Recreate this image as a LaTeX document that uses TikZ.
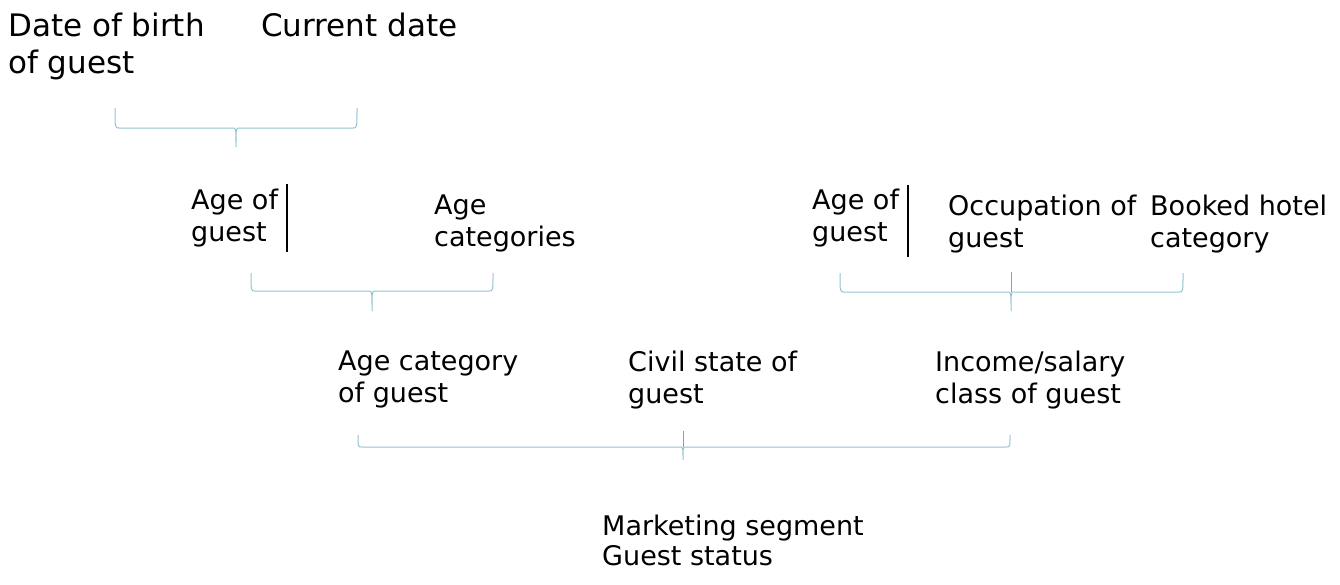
\documentclass[tikz,border=0pt]{standalone}
\usepackage{fontspec}
\setmainfont{DejaVu Sans}
\definecolor{brcol}{RGB}{145,195,205}
\definecolor{tickcol}{RGB}{140,160,168}

\begin{document}
\begin{tikzpicture}[x=1pt,y=-1pt,
    big/.style={anchor=north west,inner sep=0pt,align=left,font=\fontsize{31}{37}\selectfont},
    mid/.style={anchor=north west,inner sep=0pt,align=left,font=\fontsize{27}{32}\selectfont},
    low/.style={anchor=north west,inner sep=0pt,align=left,font=\fontsize{27}{30}\selectfont},
    brc/.style={draw=brcol,line width=1pt},
    bar/.style={draw=black,line width=1.5pt}]

      \useasboundingbox (0,0) rectangle (1340,584);

      % top row
      \node[big] (birth) at (8,13) {Date of birth\\of guest};
      \node[big] (now) at (261,13) {Current date};

      % middle row, left
      \node[mid] (ageL) at (191,189) {Age of\\guest};
      \node[mid] (agecats) at (434,195) {Age\\categories};
      \path (287,184) coordinate (barL1) (287,252) coordinate (barL2);
      \draw[bar] (barL1) -- (barL2);

      % middle row, right
      \node[mid] (ageR) at (812,189) {Age of\\guest};
      \node[mid] (occup) at (948,195) {Occupation of\\guest};
      \node[mid] (hotel) at (1150,195) {Booked hotel\\category};
      \path (908,185) coordinate (barR1) (908,257) coordinate (barR2);
      \draw[bar] (barR1) -- (barR2);

      % third row
      \node[mid] (agecat) at (338,351) {Age category\\of guest};
      \node[mid] (civil) at (628,351) {Civil state of\\guest};
      \node[mid] (income) at (935,351) {Income/salary\\class of guest};

      % result
      \node[low] (segment) at (602,515) {Marketing segment\\Guest status};

      % braces
      \foreach \l/\r/\m/\t/\y/\b in {115/357/236/108/128/147, 251/493/372/273/291/311,
                                     840/1183/1011/273/292/311, 358/1010/683/435/447/460}{
        \draw[brc] (\l,\t) .. controls (\l,\y) .. (\l+4,\y) -- (\m-3,\y)
          .. controls (\m,\y) .. (\m,\b) .. controls (\m,\y) .. (\m+3,\y)
          -- (\r-4,\y) .. controls (\r,\y) .. (\r,\t);
      }
      \draw[draw=tickcol,line width=1pt] (1011,272) -- (1011,292);
      \draw[draw=tickcol,line width=1pt] (683,431) -- (683,447);

    \end{tikzpicture}
\end{document}
